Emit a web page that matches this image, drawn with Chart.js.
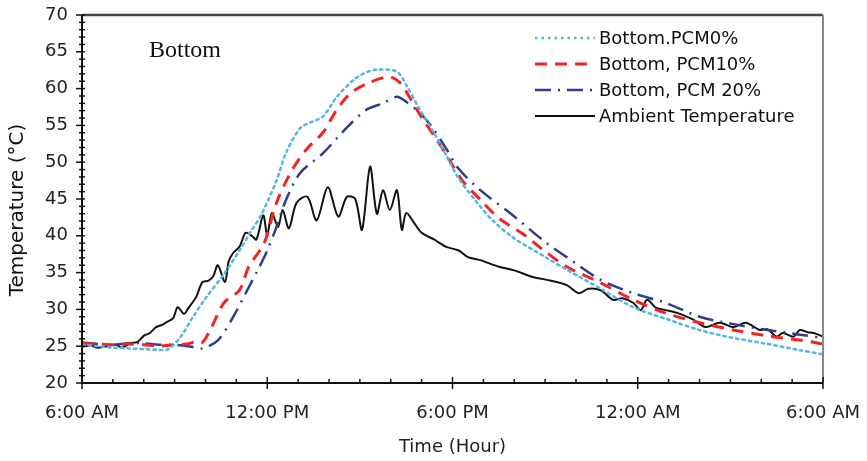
<!DOCTYPE html>
<html>
<head>
<meta charset="utf-8">
<script src="https://cdn.jsdelivr.net/npm/chart.js@4"></script>
<style>
  html, body { margin: 0; padding: 0; background: #fff; }
  #wrap { width: 867px; height: 461px; }
</style>
</head>
<body>
<div id="wrap"><canvas id="graf" width="867" height="461"></canvas></div>
<script>
// hours after 6:00 AM
const timeLabels = ['6:00 AM', '12:00 PM', '6:00 PM', '12:00 AM', '6:00 AM']
const seriesNames = ['Bottom.PCM0%', 'Bottom, PCM10%', 'Bottom, PCM 20%', 'Ambient Temperature']

const pcm0Hours = [0, 0.5, 1, 1.5, 2, 2.5, 2.8, 3.2, 3.6, 4.0, 4.6, 5.1, 5.5, 5.8, 6.3, 6.6, 7.06, 7.4, 7.8, 8.26, 8.8, 9.2, 9.55, 10.2, 10.5, 10.95, 11.4, 11.8, 12.2, 12.8, 13.3, 13.95, 15.05, 15.7, 16.8, 17.85, 19, 20, 21, 22.2, 23.2, 24]
const pcm0Temp = [25.2, 25.0, 24.8, 24.7, 24.6, 24.5, 24.6, 26.3, 29, 31.5, 34.8, 38, 40.8, 42.8, 47.5, 51.2, 54.6, 55.4, 56.2, 58.9, 61.2, 62.2, 62.6, 62.3, 60.5, 57.1, 54, 50.9, 47.8, 44.5, 42.1, 39.8, 37.0, 35.4, 32.8, 30.3, 28.6, 27.2, 26.2, 25.3, 24.5, 23.9]

const pcm10Hours = [0, 0.5, 1, 1.5, 2, 2.5, 3, 3.4, 3.7, 3.9, 4.2, 4.6, 5.1, 5.4, 5.9, 6.3, 6.8, 7.3, 7.8, 8.25, 8.7, 9.3, 9.95, 10.3, 10.6, 11, 11.5, 11.9, 12.3, 12.9, 13.5, 14.3, 14.9, 15.7, 16.8, 17.85, 18.9, 20, 21.1, 22.2, 23.3, 24]
const pcm10Temp = [25.4, 25.3, 25.2, 25.3, 25.2, 25.0, 25.2, 25.3, 25.6, 25.5, 27.6, 30.9, 32.6, 35.8, 39, 44.5, 48.9, 51.9, 54, 57.1, 59.4, 60.8, 61.6, 60.8, 58.9, 56.1, 53, 50.3, 47.6, 44.9, 42.4, 40.2, 38.2, 35.8, 33.6, 31.3, 29.5, 28.2, 27.2, 26.4, 25.8, 25.3]

const pcm20Hours = [0, 0.5, 1, 1.5, 2, 2.5, 3, 3.6, 3.9, 4.4, 4.9, 5.3, 5.7, 6, 6.3, 6.6, 7.06, 7.8, 8.6, 9.2, 9.75, 10.2, 10.5, 10.95, 11.4, 11.8, 12.2, 12.9, 13.8, 15.05, 15.7, 16.8, 17.85, 18.9, 20, 21.1, 22.2, 23.2, 24]
const pcm20Temp = [25.5, 25.3, 25.2, 25.4, 25.4, 25.2, 25.2, 24.9, 24.7, 25.8, 29, 32.2, 35.4, 38, 41.2, 44.8, 48.5, 51.2, 54.8, 57.1, 58, 58.9, 58.2, 56.7, 54.4, 51.8, 49.1, 46.2, 43.3, 39, 37.1, 34, 32.2, 30.9, 29, 28.0, 27.2, 26.6, 26.1]

const ambHours = [0, 0.3, 0.5, 0.8, 1.1, 1.3, 1.55, 1.8, 2, 2.2, 2.4, 2.6, 2.75, 2.95, 3.1, 3.3, 3.45, 3.7, 3.9, 4.1, 4.25, 4.4, 4.63, 4.75, 4.9, 5.1, 5.3, 5.5, 5.65, 5.87, 6.0, 6.15, 6.35, 6.5, 6.7, 6.95, 7.3, 7.6, 7.96, 8.3, 8.58, 8.85, 9.07, 9.33, 9.55, 9.75, 9.97, 10.2, 10.36, 10.5, 10.75, 11, 11.4, 11.8, 12.2, 12.5, 12.9, 13.5, 14, 14.6, 15.2, 15.7, 16.1, 16.4, 16.8, 17.2, 17.5, 17.85, 18.1, 18.3, 18.6, 18.9, 19.3, 19.8, 20.2, 20.65, 21.1, 21.5, 21.95, 22.2, 22.5, 22.7, 23.05, 23.25, 23.5, 23.7, 24]
const ambTemp = [24.9, 25.1, 24.8, 25.0, 25.2, 24.8, 25.4, 25.6, 26.4, 26.8, 27.6, 27.9, 28.3, 28.8, 30.3, 29.4, 30.2, 31.7, 33.7, 33.9, 34.5, 36, 33.7, 36.5, 37.7, 38.5, 40.4, 40.0, 39.5, 42.8, 40.1, 43.1, 41.2, 43.5, 41, 44.5, 45.3, 42.1, 46.6, 42.6, 45.3, 45.0, 40.8, 49.4, 43.0, 46.2, 43.5, 46.2, 40.8, 43.1, 41.8, 40.4, 39.5, 38.5, 38, 37.1, 36.7, 35.8, 35.3, 34.4, 33.9, 33.3, 32.2, 32.8, 32.6, 31.3, 31.5, 30.9, 29.9, 31.3, 30.2, 29.9, 29.5, 28.6, 27.6, 28.2, 27.6, 28.2, 27.2, 27.3, 26.3, 26.8, 26.3, 27.2, 26.9, 26.8, 26.3]

const pts = (xs, ys) => xs.map((h, i) => ({ x: h, y: ys[i] }))

const graf = document.getElementById('graf')

// axes frame, minor ticks, legend, inner label
const extras = {
    id: 'extras',
    afterDraw(chart) {
        const ctx = chart.ctx
        const a = chart.chartArea
        const xs = chart.scales.x
        const ys = chart.scales.y
        ctx.save()

        // top + right frame
        ctx.strokeStyle = '#444'
        ctx.lineWidth = 2.5
        ctx.beginPath()
        ctx.moveTo(a.left, a.top)
        ctx.lineTo(a.right, a.top)
        ctx.stroke()
        ctx.strokeStyle = '#888'
        ctx.lineWidth = 2
        ctx.beginPath()
        ctx.moveTo(a.right, a.top)
        ctx.lineTo(a.right, a.bottom)
        ctx.stroke()

        // left + bottom axis
        ctx.strokeStyle = '#111'
        ctx.lineWidth = 2
        ctx.beginPath()
        ctx.moveTo(a.left, a.top)
        ctx.lineTo(a.left, a.bottom)
        ctx.lineTo(a.right, a.bottom)
        ctx.stroke()

        // y ticks
        ctx.lineWidth = 1.5
        for (let v = 20; v <= 70; v++) {
            const py = ys.getPixelForValue(v)
            ctx.beginPath()
            if (v % 5 === 0) {
                ctx.moveTo(a.left - 6, py)
                ctx.lineTo(a.left + 3, py)
            } else {
                ctx.moveTo(a.left - 3, py)
                ctx.lineTo(a.left + 3, py)
            }
            ctx.stroke()
        }
        // x ticks
        for (let h = 0; h <= 24; h++) {
            const px = xs.getPixelForValue(h)
            ctx.beginPath()
            if (h % 6 === 0) {
                ctx.moveTo(px, a.bottom - 6)
                ctx.lineTo(px, a.bottom + 6)
            } else {
                ctx.moveTo(px, a.bottom - 4)
                ctx.lineTo(px, a.bottom)
            }
            ctx.stroke()
        }

        // legend
        ctx.font = '18px "DejaVu Sans"'
        ctx.textBaseline = 'middle'
        ctx.textAlign = 'left'
        const rowsY = [38, 64, 90, 116]
        chart.data.datasets.forEach((ds, i) => {
            const y = rowsY[i]
            ctx.strokeStyle = ds.borderColor
            ctx.lineWidth = ds.borderWidth
            ctx.setLineDash(ds.borderDash || [])
            ctx.beginPath()
            ctx.moveTo(535, y)
            ctx.lineTo(595, y)
            ctx.stroke()
            ctx.setLineDash([])
            ctx.fillStyle = '#111'
            ctx.fillText(seriesNames[i], 599, y + 1)
        })

        // panel label
        ctx.font = '24px "Liberation Serif"'
        ctx.textBaseline = 'alphabetic'
        ctx.fillText('Bottom', 149, 57)

        // y title
        ctx.translate(18, 210)
        ctx.rotate(-Math.PI / 2)
        ctx.textAlign = 'center'
        ctx.textBaseline = 'middle'
        ctx.font = '20px "DejaVu Sans"'
        ctx.fillText('Temperature (°C)', 0, 0)
        ctx.restore()
    }
}

new Chart(graf, {
    type: 'line',
    data: {
        datasets: [
            {
                data: pts(pcm0Hours, pcm0Temp),
                borderColor: '#55b4e8',
                borderWidth: 2.5,
                borderDash: [2.5, 4],
                borderCapStyle: 'round'
            },
            {
                data: pts(pcm10Hours, pcm10Temp),
                borderColor: '#f42222',
                borderWidth: 3,
                borderDash: [12, 8]
            },
            {
                data: pts(pcm20Hours, pcm20Temp),
                borderColor: '#2e3f86',
                borderWidth: 2.5,
                borderDash: [16, 7, 2, 7]
            },
            {
                data: pts(ambHours, ambTemp),
                borderColor: '#111111',
                borderWidth: 2
            }
        ]
    },
    options: {
        responsive: false,
        animation: false,
        elements: {
            point: { radius: 0 },
            line: { tension: 0.3 }
        },
        layout: { padding: { top: 15, right: 44, left: 0, bottom: 0 } },
        plugins: {
            legend: { display: false },
            tooltip: { enabled: false }
        },
        scales: {
            x: {
                type: 'linear',
                min: 0,
                max: 24,
                // hidden tick marks only reserve room for the labels
                grid: { display: false, drawTicks: true, tickLength: 20 },
                border: { display: false },
                ticks: {
                    stepSize: 6,
                    autoSkip: false,
                    maxRotation: 0,
                    padding: 0,
                    color: '#222',
                    font: { family: 'DejaVu Sans', size: 18 },
                    callback: v => timeLabels[v / 6]
                },
                title: {
                    display: true,
                    text: 'Time (Hour)',
                    color: '#222',
                    font: { family: 'DejaVu Sans', size: 18 },
                    padding: { top: 0, bottom: 3 }
                },
                afterFit: s => { s.height = 78 }
            },
            y: {
                min: 20,
                max: 70,
                grid: { display: false, drawTicks: true, tickLength: 14 },
                border: { display: false },
                ticks: {
                    stepSize: 5,
                    padding: 0,
                    color: '#222',
                    font: { family: 'DejaVu Sans', size: 18 }
                },
                afterFit: s => { s.width = 82 }
            }
        }
    },
    plugins: [extras]
})
</script>
</body>
</html>
